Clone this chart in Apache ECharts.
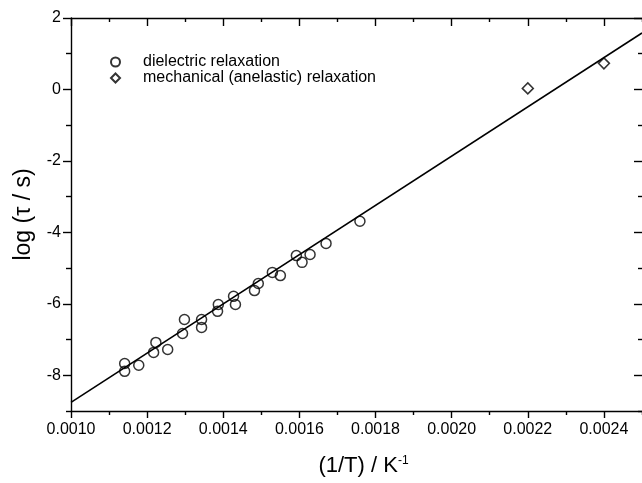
<!DOCTYPE html>
<html>
<head>
<meta charset="utf-8">
<script src="https://cdn.jsdelivr.net/npm/echarts@6/dist/echarts.min.js"></script>
<style>
  html, body { margin: 0; padding: 0; background: #fff; }
  #chart { width: 642px; height: 483px; }
</style>
</head>
<body>
<div id="chart"></div>
<script>
// Relaxation times vs inverse temperature
const dielectricX = [0.001141, 0.001141, 0.001178, 0.001217, 0.001223, 0.001254, 0.001293, 0.001298,
  0.001343, 0.001343, 0.001385, 0.001387, 0.001427, 0.001432, 0.001482, 0.001492, 0.001529,
  0.001550, 0.001592, 0.001607, 0.001628, 0.001670, 0.001759];
const dielectricY = [-7.67, -7.89, -7.72, -7.36, -7.08, -7.28, -6.83, -6.44,
  -6.44, -6.66, -6.21, -6.02, -5.79, -6.02, -5.63, -5.43, -5.12,
  -5.21, -4.65, -4.84, -4.62, -4.31, -3.69];
const mechanicalX = [0.0022, 0.0024];
const mechanicalY = [0.03, 0.73];
// Arrhenius fit line end points
const fitX = [0.0010, 0.0025];
const fitY = [-8.76, 1.58];

const xMajorTicks = [0.0010, 0.0012, 0.0014, 0.0016, 0.0018, 0.0020, 0.0022, 0.0024];
const xMinorTicks = [0.0011, 0.0013, 0.0015, 0.0017, 0.0019, 0.0021, 0.0023, 0.0025];
const yMajorTicks = [-8, -6, -4, -2, 0, 2];
const yMinorTicks = [-9, -7, -5, -3, -1, 1];

const seriesNames = ['dielectric relaxation', 'mechanical (anelastic) relaxation'];
const xTitle = '(1/T) / K{sup|-1}';
const yTitle = 'log (\u03c4 / s)';

const FONT = "'Liberation Sans', Arial, Helvetica, sans-serif";
const X_RANGE = [0.0010, 0.0025];
const Y_RANGE = [-9, 2];

function zip(xs, ys) { return xs.map((x, i) => [x, ys[i]]); }

function makeXAxis(position, ticks, len, inside, labels, line) {
  return {
    type: 'value', gridIndex: 0, position: position,
    min: X_RANGE[0], max: X_RANGE[1],
    axisLine: { show: line, onZero: false, lineStyle: { color: '#000', width: 1.4 } },
    axisTick: { show: true, inside: inside, length: len, customValues: ticks,
      lineStyle: { color: '#000', width: 1.4 } },
    axisLabel: { show: labels, customValues: ticks, margin: 11, color: '#000',
      fontFamily: FONT, fontSize: 16, formatter: v => v.toFixed(4) },
    splitLine: { show: false }
  };
}

function makeYAxis(position, ticks, len, inside, labels, line) {
  return {
    type: 'value', gridIndex: 0, position: position,
    min: Y_RANGE[0], max: Y_RANGE[1],
    axisLine: { show: line, onZero: false, lineStyle: { color: '#000', width: 1.4 } },
    axisTick: { show: true, inside: inside, length: len, customValues: ticks,
      lineStyle: { color: '#000', width: 1.4 } },
    axisLabel: { show: labels, customValues: ticks, margin: 10, color: '#000',
      fontFamily: FONT, fontSize: 16, formatter: v => String(v) },
    splitLine: { show: false }
  };
}

const xAxes = [
  makeXAxis('bottom', xMajorTicks, 7, false, true, true),
  makeXAxis('bottom', xMinorTicks, 4, false, false, false),
  makeXAxis('top', xMajorTicks, 8, true, false, true),
  makeXAxis('top', xMinorTicks, 4, true, false, false)
];
Object.assign(xAxes[0], {
  name: xTitle, nameLocation: 'middle', nameGap: 44,
  nameTextStyle: { color: '#000', fontFamily: FONT, fontSize: 22, padding: [0, 0, 0, 14],
    rich: { sup: { fontSize: 12, verticalAlign: 'top', padding: [0, 0, 10, 0], fontFamily: FONT, color: '#000' } } }
});

const yAxes = [
  makeYAxis('left', yMajorTicks, 8, false, true, true),
  makeYAxis('left', yMinorTicks, 5, false, false, false),
  makeYAxis('right', yMajorTicks, 8, true, false, false),
  makeYAxis('right', yMinorTicks, 4, true, false, false)
];
Object.assign(yAxes[0], {
  name: yTitle, nameLocation: 'middle', nameGap: 36, nameRotate: 90,
  nameTextStyle: { color: '#000', fontFamily: FONT, fontSize: 23 }
});

const chart = echarts.init(document.getElementById('chart'), null, { renderer: 'canvas' });
chart.setOption({
  animation: false,
  backgroundColor: '#fff',
  grid: { left: 71, top: 18, width: 573, height: 393, containLabel: false },
  xAxis: xAxes,
  yAxis: yAxes,
  legend: {
    data: seriesNames,
    orient: 'vertical', left: 110, top: 54,
    itemWidth: 9, itemHeight: 9, itemGap: 0, padding: 0,
    textStyle: { color: '#000', fontFamily: FONT, fontSize: 16, padding: [0, 0, 0, 18] }
  },
  series: [
    {
      name: 'fit', type: 'line', xAxisIndex: 0, yAxisIndex: 0,
      data: zip(fitX, fitY), showSymbol: false, symbol: 'none', z: 1,
      lineStyle: { color: '#000', width: 1.6 }, silent: true
    },
    {
      name: seriesNames[0], type: 'scatter', xAxisIndex: 0, yAxisIndex: 0,
      data: zip(dielectricX, dielectricY), symbol: 'circle', symbolSize: 10, z: 3,
      itemStyle: { color: 'rgba(0,0,0,0)', borderColor: '#000', borderWidth: 1.5 }
    },
    {
      name: seriesNames[1], type: 'scatter', xAxisIndex: 0, yAxisIndex: 0,
      data: zip(mechanicalX, mechanicalY), symbol: 'diamond', symbolSize: 11, z: 3,
      itemStyle: { color: 'rgba(0,0,0,0)', borderColor: '#000', borderWidth: 1.5 }
    }
  ]
});
</script>
</body>
</html>
